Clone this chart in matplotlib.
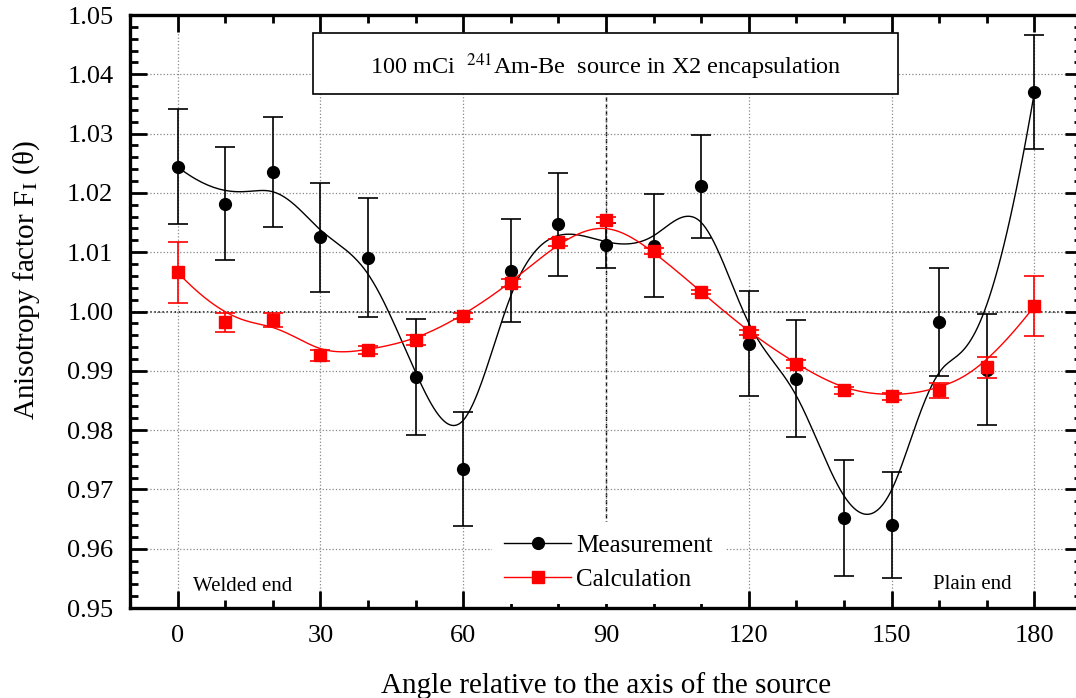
import numpy as np
import matplotlib
matplotlib.use('Agg')
import matplotlib.pyplot as plt
from matplotlib.lines import Line2D
from matplotlib.patches import Rectangle

plt.rcParams['font.family'] = ['Liberation Serif', 'DejaVu Serif']
plt.rcParams['mathtext.fontset'] = 'stix'

# anisotropy factor vs angle, 100 mCi Am-Be source
angle = [0, 10, 20, 30, 40, 50, 60, 70, 80, 90, 100, 110, 120, 130, 140, 150, 160, 170, 180]
meas = [1.0244, 1.0182, 1.0235, 1.0125, 1.0091, 0.9890, 0.9735, 1.0069, 1.0147, 1.0112,
        1.0111, 1.0211, 0.9946, 0.9887, 0.9652, 0.9640, 0.9983, 0.9902, 1.0370]
meas_err = [0.0097, 0.0095, 0.0093, 0.0092, 0.0100, 0.0098, 0.0096, 0.0087, 0.0087, 0.0038,
            0.0087, 0.0087, 0.0088, 0.0098, 0.0098, 0.0090, 0.0091, 0.0094, 0.0096]
calc = [1.0066, 0.9982, 0.9986, 0.9926, 0.9935, 0.9952, 0.9993, 1.0048, 1.0117, 1.0155,
        1.0102, 1.0033, 0.9965, 0.9911, 0.9867, 0.9857, 0.9867, 0.9906, 1.0009]
calc_err = [0.0051, 0.0016, 0.0012, 0.0009, 0.0007, 0.0008, 0.0005, 0.0006, 0.0006, 0.0005,
            0.0005, 0.0004, 0.0004, 0.0007, 0.0006, 0.0006, 0.0013, 0.0018, 0.0051]


def bspline(px, py, k=3, num=600):
    # clamped uniform B-spline using the data points as control points
    px = np.asarray(px, float)
    py = np.asarray(py, float)
    n = len(px)
    t = np.concatenate([np.zeros(k), np.arange(n - k + 1), np.full(k, n - k)]).astype(float)
    u = np.linspace(0, n - k, num)
    u[-1] -= 1e-9
    B = np.zeros((num, len(t) - 1))
    for i in range(len(t) - 1):
        B[:, i] = (t[i] <= u) & (u < t[i + 1])
    for d in range(1, k + 1):
        Bn = np.zeros((num, len(t) - 1 - d))
        for i in range(len(t) - 1 - d):
            a = t[i + d] - t[i]
            b = t[i + d + 1] - t[i + 1]
            left = (u - t[i]) / a * B[:, i] if a > 0 else 0
            right = (t[i + d + 1] - u) / b * B[:, i + 1] if b > 0 else 0
            Bn[:, i] = left + right
        B = Bn
    return B @ px, B @ py


fig = plt.figure(figsize=(10.76, 6.98), dpi=100)
ax = fig.add_axes([0.1208, 0.1289, 0.8848, 0.8496])

ax.grid(True, which='major', color='#888888', ls=':', lw=0.9, zorder=0)
ax.axhline(1.0, color='k', ls=':', lw=1.1, zorder=1)
ax.axvline(90, color='k', ls=(0, (3, 2)), lw=1.0, zorder=1)

ax.errorbar(angle, meas, yerr=meas_err, fmt='o', color='k', ms=8.5,
            elinewidth=1.2, capsize=7, capthick=1.2, zorder=3)
sx, sy = bspline(angle, meas)
ax.plot(sx, sy, color='k', lw=1.0, zorder=3)

ax.errorbar(angle, calc, yerr=calc_err, fmt='s', color='red', ms=8,
            elinewidth=1.2, capsize=7, capthick=1.2, zorder=4)
sx, sy = bspline(angle, calc)
ax.plot(sx, sy, color='red', lw=1.0, zorder=4)

ax.set_xlim(-10, 190)
ax.set_ylim(0.95, 1.05)
ax.set_xticks(np.arange(0, 181, 30))
ax.set_xticks(np.arange(0, 181, 10), minor=True)
ax.set_yticks(np.arange(0.95, 1.0501, 0.01))
ax.set_yticks(np.arange(0.95, 1.0501, 0.002), minor=True)
ax.set_yticklabels([f'{v:.2f}' for v in np.arange(0.95, 1.0501, 0.01)])
ax.tick_params(which='both', direction='in', top=True, right=True, labelsize=19, pad=12)
ax.tick_params(which='major', length=12, width=2.0)
ax.tick_params(which='minor', length=6, width=2.0)
for s in ax.spines.values():
    s.set_linewidth(2.4)

ax.set_xlabel('Angle relative to the axis of the source', fontsize=21, labelpad=18)
ax.set_ylabel(r'Anisotropy factor F$_{\mathrm{I}}$ (θ)', fontsize=21, va='center')
ax.yaxis.set_label_coords(-0.108, 0.553)

# title box
ax.add_patch(Rectangle((0.192, 0.867), 0.615, 0.103, transform=ax.transAxes,
                       facecolor='white', edgecolor='k', lw=1.2, zorder=5))
ax.text(0.4995, 0.912, r'100 mCi  $^{241}$Am-Be  source in X2 encapsulation',
        transform=ax.transAxes, ha='center', va='center', fontsize=17.5, zorder=6)

ax.text(3.2, 0.9536, 'Welded end', fontsize=15, va='center', ha='left')
ax.text(158.6, 0.9539, 'Plain end', fontsize=15, va='center', ha='left')

handles = [Line2D([], [], color='k', marker='o', ms=8.5, lw=1.0),
           Line2D([], [], color='red', marker='s', ms=8, lw=1.0)]
leg = ax.legend(handles, ['Measurement', 'Calculation'], loc='upper left',
                bbox_to_anchor=(0.380, 0.145), fontsize=18, frameon=True,
                facecolor='white', edgecolor='none', framealpha=1, fancybox=False,
                handlelength=2.68, handletextpad=0.2, labelspacing=0.46,
                borderpad=0.5, borderaxespad=0)
leg.set_zorder(6)

fig.savefig('out.png', dpi=100)
